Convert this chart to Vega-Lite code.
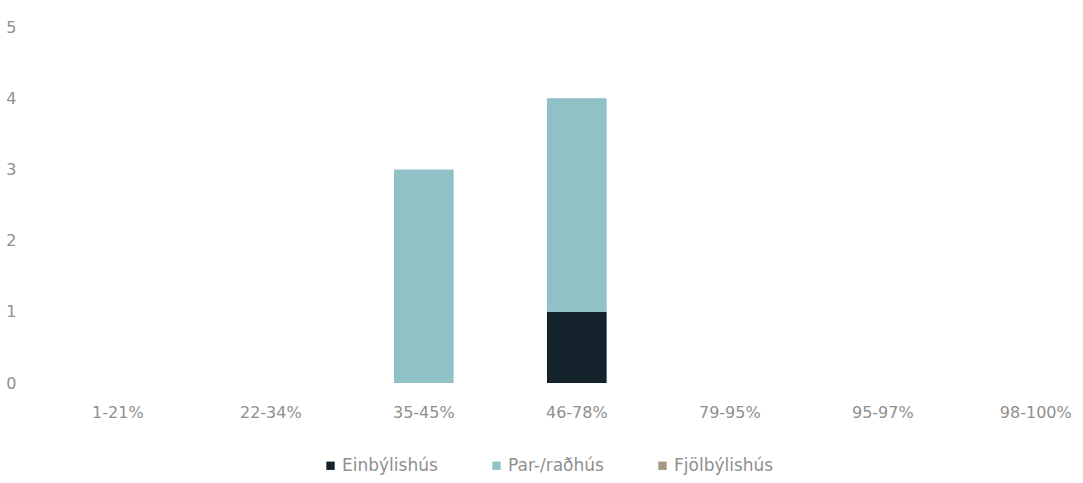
{
  "$schema": "https://vega.github.io/schema/vega-lite/v6.json",
  "autosize": {"type": "none"},
  "width": 1041,
  "height": 356,
  "padding": {"left": 42, "top": 27, "right": 0, "bottom": 100},
  "background": "white",
  "config": {
    "view": {"stroke": null},
    "font": "DejaVu Sans",
    "axis": {"labelFont": "DejaVu Sans", "labelColor": "#8f8f8f", "labelFontSize": 16, "grid": false, "domain": false, "ticks": false, "title": null}
  },
  "data": {
    "values": [
      {"range": "1-21%", "type": "Einbýlishús", "count": 0},
      {"range": "22-34%", "type": "Einbýlishús", "count": 0},
      {"range": "35-45%", "type": "Par-/raðhús", "count": 3},
      {"range": "46-78%", "type": "Einbýlishús", "count": 1},
      {"range": "46-78%", "type": "Par-/raðhús", "count": 3},
      {"range": "79-95%", "type": "Einbýlishús", "count": 0},
      {"range": "95-97%", "type": "Einbýlishús", "count": 0},
      {"range": "98-100%", "type": "Fjölbýlishús", "count": 0}
    ]
  },
  "mark": {"type": "bar"},
  "encoding": {
    "x": {
      "field": "range", "type": "nominal",
      "sort": ["1-21%", "22-34%", "35-45%", "46-78%", "79-95%", "95-97%", "98-100%"],
      "scale": {"paddingInner": 0.61, "paddingOuter": 0.207, "align": 0.726},
      "axis": {"labelAngle": 0, "labelPadding": 21}
    },
    "y": {
      "field": "count", "type": "quantitative", "aggregate": "sum",
      "scale": {"domain": [0, 5]},
      "axis": {"values": [0, 1, 2, 3, 4, 5], "labelPadding": 26, "labelAlign": "right"}
    },
    "color": {
      "field": "type", "type": "nominal",
      "scale": {"domain": ["Einbýlishús", "Par-/raðhús", "Fjölbýlishús"], "range": ["#14232b", "#8fc1c6", "#a89a7f"]},
      "legend": {"orient": "none", "legendX": 280, "legendY": 430, "direction": "horizontal", "title": null, "symbolType": "square", "symbolSize": 70, "labelFontSize": 17, "labelColor": "#8f8f8f", "labelFont": "DejaVu Sans", "columnPadding": 50, "labelOffset": 3, "symbolStrokeWidth": 0}
    },
    "order": {"field": "type", "sort": "ascending"}
  }
}
